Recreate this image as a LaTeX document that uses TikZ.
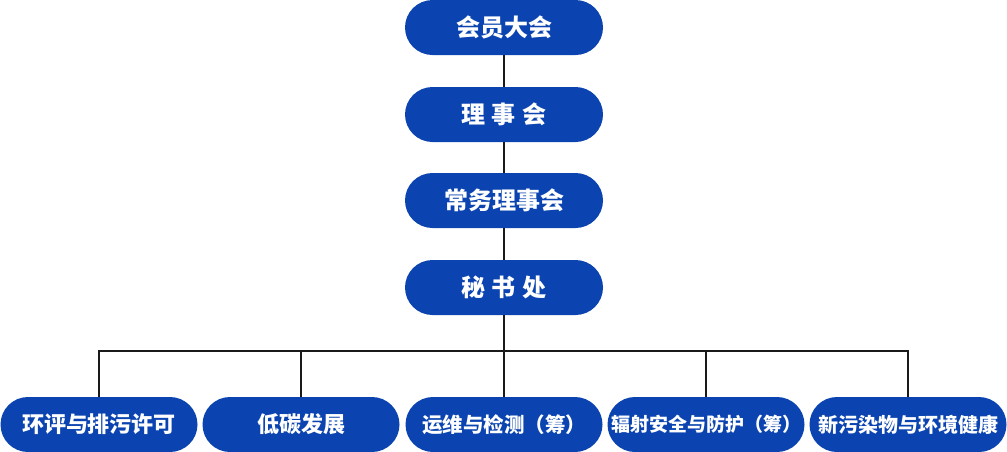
\documentclass[tikz,border=0pt]{standalone}
\usepackage{fontspec}
\newfontfamily\cjk{Noto Sans CJK SC}
\definecolor{boxblue}{HTML}{0B44B0}
\definecolor{linec}{HTML}{1A1A1A}
\tikzset{
  topbox/.style={fill=boxblue, draw=none, rounded corners=27.5pt, minimum width=198pt, minimum height=55pt, inner sep=0pt, text=white, font=\cjk\bfseries\fontsize{24pt}{28pt}\selectfont},
  botbox/.style={fill=boxblue, draw=none, rounded corners=27.5pt, minimum width=197pt, minimum height=55pt, inner sep=0pt, text=white},
  fs/.style={font=\cjk\bfseries\fontsize{#1}{#1}\selectfont},
  conn/.style={draw=linec, line width=2pt}
}
\begin{document}
\begin{tikzpicture}[x=1pt,y=-1pt]
\useasboundingbox (0,0) rectangle (1007,451);
\node[topbox] (n1) at (504,27.5) {会员大会};
\node[topbox] (n2) at (504,114.5) {理\hspace{7pt}事\hspace{7pt}会};
\node[topbox] (n3) at (504,200.5) {常务理事会};
\node[topbox] (n4) at (504,287.5) {秘\hspace{7pt}书\hspace{7pt}处};
\coordinate (bus) at (504,350.5);
\node[botbox, fs=22pt] (b1) at (99,424.5) {环评与排污许可};
\node[botbox, fs=22pt] (b2) at (301,424.5) {低碳发展};
\node[botbox, fs=20.5pt] (b3) at (504,424.5) {运维与检测（筹）};
\node[botbox, fs=19pt] (b4) at (706,424.5) {辐射安全与防护（筹）};
\node[botbox, fs=20pt] (b5) at (908,424.5) {新污染物与环境健康};
\begin{scope}[on background layer/.try]
\draw[conn] (n1) -- (n2);
\draw[conn] (n2) -- (n3);
\draw[conn] (n3) -- (n4);
\draw[conn] (n4) -- (bus);
\draw[conn] (bus) -| (b1.north);
\draw[conn] (bus) -| (b2.north);
\draw[conn] (bus) -- (b3.north);
\draw[conn] (bus) -| (b4.north);
\draw[conn] (bus) -| (b5.north);
\end{scope}
\end{tikzpicture}
\end{document}
